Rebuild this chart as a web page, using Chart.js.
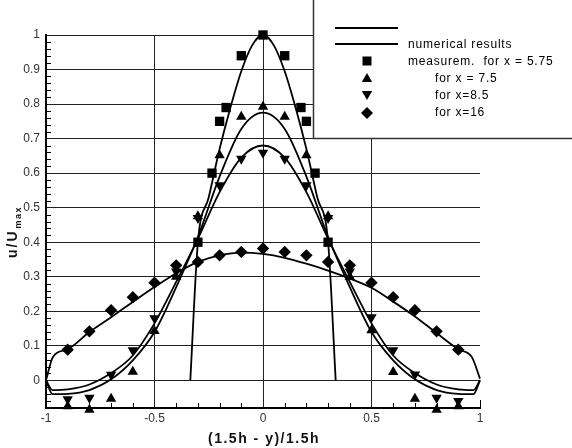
<!DOCTYPE html>
<html><head><meta charset="utf-8">
<script src="https://cdn.jsdelivr.net/npm/chart.js@4/dist/chart.umd.min.js"></script>
<style>html,body{margin:0;padding:0;background:#fff}#wrap{width:572px;height:448px;position:relative}</style>
</head><body><div id="wrap"><canvas id="c" width="572" height="448"></canvas></div>
<script>
// ---- tick labels ----
const X_TICKS = [-1, -0.5, 0, 0.5, 1];
const X_TICK_LABELS = ['-1', '-0.5', '0', '0.5', '1'];
const Y_TICKS = [0, 0.1, 0.2, 0.3, 0.4, 0.5, 0.6, 0.7, 0.8, 0.9, 1];
const Y_TICK_LABELS = ['0', '0.1', '0.2', '0.3', '0.4', '0.5', '0.6', '0.7', '0.8', '0.9', '1'];

// ---- measurements ----
const M575_X = [-0.3, -0.235, -0.2, -0.17, -0.1, 0, 0.1, 0.175, 0.2, 0.24, 0.3];
const M575_Y = [0.40, 0.60, 0.75, 0.79, 0.94, 1.0, 0.94, 0.79, 0.75, 0.60, 0.40];
const M_X = [-0.9, -0.8, -0.7, -0.6, -0.5, -0.4, -0.3, -0.2, -0.1, 0, 0.1, 0.2, 0.3, 0.4, 0.5, 0.6, 0.7, 0.8, 0.9];
const M75_Y = [-0.075, -0.085, -0.053, 0.025, 0.143, 0.30, 0.475, 0.652, 0.763, 0.792, 0.763, 0.652, 0.475, 0.30, 0.145, 0.024, -0.053, -0.085, -0.075];
const M85_Y = [-0.055, -0.05, 0.016, 0.087, 0.18, 0.315, 0.47, 0.565, 0.642, 0.659, 0.642, 0.565, 0.47, 0.315, 0.183, 0.087, 0.017, -0.05, -0.06];
const M16_Y = [0.089, 0.142, 0.203, 0.241, 0.283, 0.333, 0.343, 0.362, 0.372, 0.382, 0.372, 0.362, 0.343, 0.333, 0.283, 0.241, 0.203, 0.142, 0.089];

// ---- numerical results ----
const N575_X = [-0.335, -0.3, -0.25, -0.2, -0.15, -0.1, -0.05, 0, 0.05, 0.1, 0.15, 0.2, 0.25, 0.3, 0.335];
const N575_Y = [0, 0.40, 0.53, 0.67, 0.79, 0.895, 0.97, 1.0, 0.97, 0.895, 0.79, 0.67, 0.53, 0.40, 0];
const N_X = [-1, -0.97, -0.9, -0.8, -0.7, -0.6, -0.5, -0.4, -0.3, -0.2, -0.1, 0, 0.1, 0.2, 0.3, 0.4, 0.5, 0.6, 0.7, 0.8, 0.9, 0.97, 1];
const N75_Y = [0, -0.04, -0.039, -0.028, 0.003, 0.058, 0.14, 0.27, 0.415, 0.59, 0.728, 0.775, 0.728, 0.59, 0.415, 0.27, 0.14, 0.058, 0.003, -0.028, -0.039, -0.04, 0];
const N85_Y = [0, -0.028, -0.026, -0.012, 0.021, 0.072, 0.165, 0.285, 0.41, 0.545, 0.645, 0.68, 0.645, 0.545, 0.41, 0.285, 0.165, 0.072, 0.021, -0.012, -0.026, -0.028, 0];
const N16_X = [-1, -0.968, -0.9, -0.8, -0.7, -0.6, -0.5, -0.4, -0.3, -0.2, -0.1, 0, 0.1, 0.2, 0.3, 0.4, 0.5, 0.6, 0.7, 0.8, 0.9, 0.962, 1];
const N16_Y = [0, 0.068, 0.09, 0.14, 0.183, 0.227, 0.27, 0.31, 0.343, 0.362, 0.37, 0.366, 0.355, 0.338, 0.318, 0.295, 0.268, 0.228, 0.185, 0.137, 0.09, 0.068, 0.005];

// ---- legend texts ----
const LEGEND_TEXTS = ['numerical results', 'measurem.  for x = 5.75', 'for x = 7.5', 'for x=8.5', 'for x=16'];
const X_TITLE = '(1.5h - y)/1.5h';

const pts = (xs, ys) => xs.map((x, i) => ({x: x, y: ys[i]}));
const lineDs = (xs, ys) => ({
  data: pts(xs, ys), showLine: true, pointRadius: 0, borderColor: '#000', borderWidth: 1.8,
  cubicInterpolationMode: 'monotone', fill: false, clip: false
});
const markDs = (xs, ys, style, rot, r) => ({
  data: pts(xs, ys), showLine: false, pointStyle: style, rotation: rot || 0,
  pointRadius: r, pointHoverRadius: r, backgroundColor: '#000', borderColor: '#000', borderWidth: 0, clip: false
});

const FONT = '"Liberation Sans", Arial, sans-serif';

const decor = {
  id: 'decor',
  beforeDatasetsDraw(chart) {
    const ctx = chart.ctx, xs = chart.scales.x, ys = chart.scales.y;
    const L = chart.chartArea.left, B = chart.chartArea.bottom;
    ctx.save();
    ctx.strokeStyle = '#000';
    ctx.lineWidth = 1;
    ctx.beginPath();
    for (let i = -4; i <= 50; i++) {
      if (i % 5 === 0) continue;
      const py = Math.round(ys.getPixelForValue(i * 0.02)) + 0.5;
      ctx.moveTo(L, py); ctx.lineTo(L + 5, py);
    }
    for (let i = -10; i <= 10; i++) {
      if (i % 5 === 0 && i !== 10) continue;
      const px = Math.round(xs.getPixelForValue(i / 10)) + 0.5;
      ctx.moveTo(px, B); ctx.lineTo(px, B - (i === 10 ? 8 : 5));
    }
    ctx.stroke();
    ctx.restore();
  },
  afterDraw(chart) {
    const ctx = chart.ctx;
    ctx.save();
    // axis titles
    ctx.fillStyle = '#111';
    ctx.font = 'bold 14px ' + FONT;
    ctx.textAlign = 'center';
    ctx.textBaseline = 'alphabetic';
    if ('letterSpacing' in ctx) ctx.letterSpacing = '1.5px';
    ctx.fillText(X_TITLE, 264, 443);
    // y title rotated
    ctx.save();
    ctx.translate(17, 258);
    ctx.rotate(-Math.PI / 2);
    ctx.textAlign = 'left';
    ctx.font = 'bold 14px ' + FONT;
    if ('letterSpacing' in ctx) ctx.letterSpacing = '2px';
    ctx.fillText('u/U', 0, 0);
    const w = ctx.measureText('u/U').width;
    ctx.font = 'bold 9px ' + FONT;
    if ('letterSpacing' in ctx) ctx.letterSpacing = '1.5px';
    ctx.fillText('max', w + 1, 4);
    ctx.restore();

    // legend box
    ctx.fillStyle = '#fff';
    ctx.fillRect(313, 0, 260, 138);
    ctx.strokeStyle = '#333';
    ctx.lineWidth = 1.5;
    ctx.strokeRect(313.5, -2, 262, 140.5);
    ctx.strokeStyle = '#000';
    ctx.lineWidth = 1.8;
    ctx.beginPath();
    ctx.moveTo(335, 28); ctx.lineTo(398, 28);
    ctx.moveTo(335, 44); ctx.lineTo(398, 44);
    ctx.stroke();
    ctx.fillStyle = '#000';
    // markers
    const mx = 367;
    ctx.fillRect(mx - 4.5, 61 - 4.5, 9, 9);
    ctx.beginPath(); ctx.moveTo(mx, 73); ctx.lineTo(mx + 5.2, 82); ctx.lineTo(mx - 5.2, 82); ctx.closePath(); ctx.fill();
    ctx.beginPath(); ctx.moveTo(mx, 100); ctx.lineTo(mx + 5.2, 91); ctx.lineTo(mx - 5.2, 91); ctx.closePath(); ctx.fill();
    ctx.beginPath(); ctx.moveTo(mx, 107); ctx.lineTo(mx + 6, 113); ctx.lineTo(mx, 119); ctx.lineTo(mx - 6, 113); ctx.closePath(); ctx.fill();
    // texts
    ctx.font = '12px ' + FONT;
    ctx.textAlign = 'left';
    ctx.textBaseline = 'middle';
    if ('letterSpacing' in ctx) ctx.letterSpacing = '0.8px';
    ctx.fillText(LEGEND_TEXTS[0], 408, 45);
    ctx.fillText(LEGEND_TEXTS[1], 408, 62);
    ctx.fillText(LEGEND_TEXTS[2], 435, 79);
    ctx.fillText(LEGEND_TEXTS[3], 435, 96);
    ctx.fillText(LEGEND_TEXTS[4], 435, 113);
    ctx.restore();
  }
};

new Chart(document.getElementById('c'), {
  type: 'scatter',
  data: {
    datasets: [
      lineDs(N575_X, N575_Y),
      lineDs(N_X, N75_Y),
      lineDs(N_X, N85_Y),
      lineDs(N16_X, N16_Y),
      markDs(M575_X, M575_Y, 'rect', 0, 6.6),
      markDs(M_X, M75_Y, 'triangle', 0, 6),
      markDs(M_X, M85_Y, 'triangle', 180, 6),
      markDs(M_X, M16_Y, 'rectRot', 0, 6.2)
    ]
  },
  options: {
    responsive: false,
    animation: false,
    events: [],
    layout: {padding: {left: 0, top: 35, right: 92, bottom: 0}},
    plugins: {legend: {display: false}, tooltip: {enabled: false}},
    scales: {
      x: {
        type: 'linear', min: -1, max: 1,
        afterFit(s) { s.height = 40; },
        afterBuildTicks(s) { s.ticks = X_TICKS.map(v => ({value: v})); },
        ticks: {
          font: {family: FONT, size: 12}, color: '#333', padding: 3, maxRotation: 0,
          callback: (v) => { const i = X_TICKS.indexOf(v); return i >= 0 ? X_TICK_LABELS[i] : ''; }
        },
        grid: {
          drawTicks: false, lineWidth: 1,
          color: (c) => (c.tick && (c.tick.value === 1 || c.tick.value === -1)) ? 'rgba(0,0,0,0)' : '#222'
        },
        border: {display: true, color: '#000', width: 2}
      },
      y: {
        type: 'linear', min: -0.08, max: 1,
        afterFit(s) { s.width = 46; },
        afterBuildTicks(s) { s.ticks = Y_TICKS.map(v => ({value: v})); },
        ticks: {
          font: {family: FONT, size: 12}, color: '#333', padding: 6,
          callback: (v) => { const i = Y_TICKS.findIndex(t => Math.abs(t - v) < 1e-9); return i >= 0 ? Y_TICK_LABELS[i] : ''; }
        },
        grid: {drawTicks: false, lineWidth: 1, color: '#222'},
        border: {display: true, color: '#000', width: 2}
      }
    }
  },
  plugins: [decor]
});
</script>
</body></html>
